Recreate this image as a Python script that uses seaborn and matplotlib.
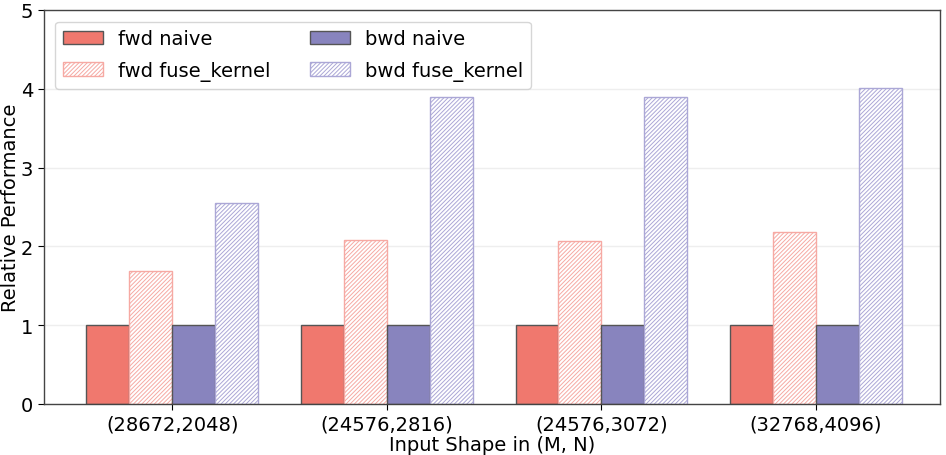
import matplotlib
matplotlib.use("Agg")
import matplotlib.pyplot as plt
import seaborn as sns
import pandas as pd
from matplotlib.patches import Patch

shapes = ["(28672,2048)", "(24576,2816)", "(24576,3072)", "(32768,4096)"]
series = ["fwd naive", "fwd fuse_kernel", "bwd naive", "bwd fuse_kernel"]
fwd_naive = [1.0, 1.0, 1.0, 1.0]
fwd_fuse = [1.69, 2.08, 2.07, 2.18]
bwd_naive = [1.0, 1.0, 1.0, 1.0]
bwd_fuse = [2.55, 3.90, 3.90, 4.01]

rows = []
for name, vals in zip(series, [fwd_naive, fwd_fuse, bwd_naive, bwd_fuse]):
    for s, v in zip(shapes, vals):
        rows.append({"shape": s, "series": name, "value": v})
df = pd.DataFrame(rows)

sns.set_style("white")
plt.rcParams["font.family"] = ["DejaVu Sans"]
plt.rcParams["text.color"] = "black"
plt.rcParams["axes.labelcolor"] = "black"
plt.rcParams["xtick.color"] = "black"
plt.rcParams["ytick.color"] = "black"
plt.rcParams["hatch.linewidth"] = 0.7

fig, ax = plt.subplots(figsize=(9.46, 4.56), dpi=100)
ax.yaxis.grid(True, color="#eeeeee", linewidth=1, zorder=0)
ax.set_axisbelow(True)

sns.barplot(data=df, x="shape", y="value", hue="series", order=shapes,
            hue_order=series, ax=ax, width=0.8, legend=False, errorbar=None)

styles = {
    "fwd naive": dict(fc="#F0786E", ec="#555555", hatch=None),
    "fwd fuse_kernel": dict(fc="white", ec="#F6A9A3", hatch="////////"),
    "bwd naive": dict(fc="#8884BE", ec="#555555", hatch=None),
    "bwd fuse_kernel": dict(fc="white", ec="#ABA7D6", hatch="////////"),
}
for cont, name in zip(ax.containers, series):
    st = styles[name]
    for p in cont:
        p.set_facecolor(st["fc"])
        p.set_edgecolor(st["ec"])
        p.set_linewidth(1.0)
        if st["hatch"]:
            p.set_hatch(st["hatch"])

leg_handles = [Patch(facecolor=styles[n]["fc"], edgecolor=styles[n]["ec"],
                     hatch=styles[n]["hatch"], label=n) for n in series]
ax.legend(handles=leg_handles, loc="upper left", ncol=2, fontsize=14,
          frameon=True, handlelength=2.05, columnspacing=2.0,
          borderaxespad=0.6, labelspacing=0.65)

ax.set_xlim(-0.6, 3.58)
ax.set_ylim(0, 5)
ax.set_yticks([0, 1, 2, 3, 4, 5])
ax.tick_params(axis="both", labelsize=14, length=4, left=True, bottom=True,
               colors="black")
ax.set_xlabel("Input Shape in (M, N)", fontsize=14, labelpad=1)
ax.set_ylabel("Relative Performance", fontsize=14, labelpad=0.5)
for sp in ax.spines.values():
    sp.set_color("#444444")
    sp.set_linewidth(1)

fig.subplots_adjust(left=0.046, right=0.994, top=0.976, bottom=0.112)
fig.savefig("out.png", dpi=100)
